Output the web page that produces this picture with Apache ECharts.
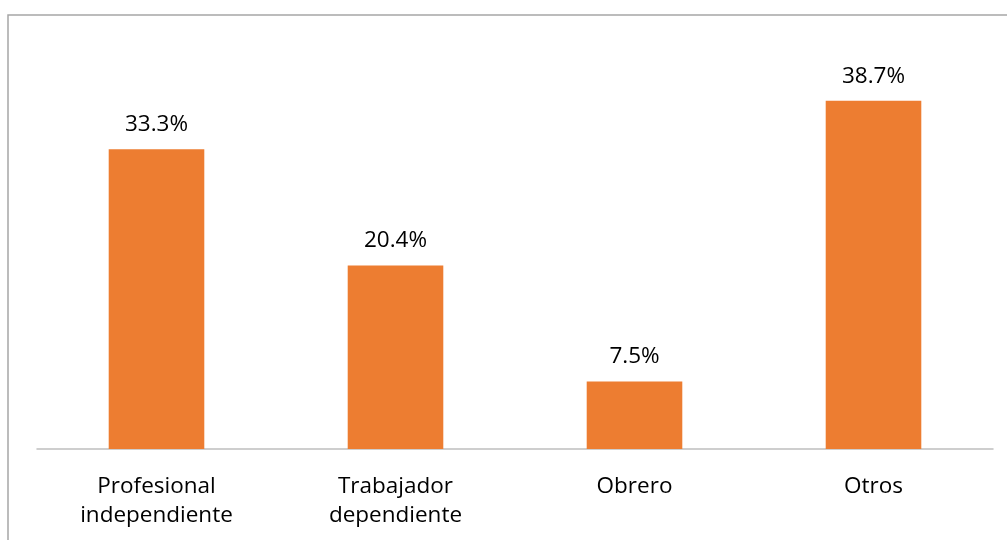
<!DOCTYPE html>
<html>
<head>
<meta charset="utf-8">
<style>
  html, body { margin: 0; padding: 0; background: #fff; }
  #chart { width: 1007px; height: 540px; }
</style>
<script src="https://cdn.jsdelivr.net/npm/echarts@6/dist/echarts.min.js"></script>
</head>
<body>
<div id="chart"></div>
<script>
const categories = ['Profesional\nindependiente', 'Trabajador\ndependiente', 'Obrero', 'Otros'];
const percents = [33.3, 20.4, 7.5, 38.7];

const chart = echarts.init(document.getElementById('chart'));
chart.setOption({
  animation: false,
  textStyle: { fontFamily: 'Open Sans' },
  graphic: [{
    type: 'rect',
    shape: { x: 8, y: 15, width: 1010, height: 540 },
    style: { fill: 'none', stroke: '#a6a6a6', lineWidth: 1.5 }
  }],
  grid: { left: 37, right: 14, top: 44, bottom: 91 },
  xAxis: {
    type: 'category',
    data: categories,
    axisLine: { lineStyle: { color: '#bfbfbf', width: 1.5 } },
    axisTick: { show: false },
    axisLabel: { color: '#000', fontSize: 22.5, lineHeight: 29, margin: 23 }
  },
  yAxis: {
    type: 'value',
    min: 0,
    max: 45,
    show: false,
    splitLine: { show: false }
  },
  series: [{
    type: 'bar',
    data: percents,
    barWidth: '40%',
    itemStyle: { color: '#ed7d31' },
    label: {
      show: true,
      position: 'top',
      distance: 13,
      color: '#000',
      fontSize: 22.5,
      formatter: p => p.value.toFixed(1) + '%'
    }
  }]
});
</script>
</body>
</html>
